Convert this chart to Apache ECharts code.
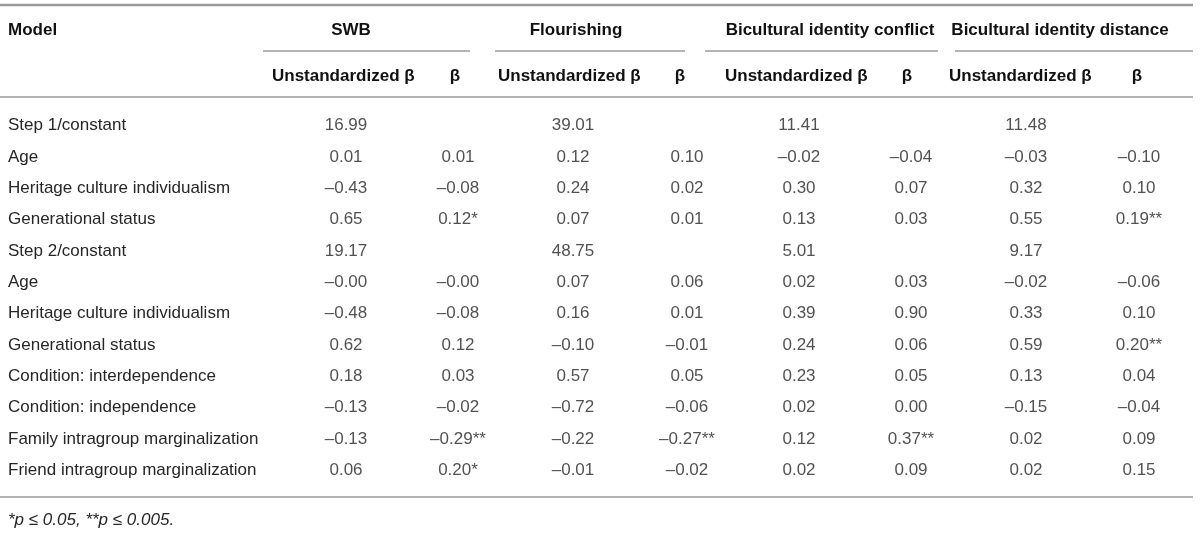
<!DOCTYPE html>
<html>
<head>
<meta charset="utf-8">
<script src="https://cdn.jsdelivr.net/npm/echarts@6/dist/echarts.min.js"></script>
<style>
  html, body { margin: 0; padding: 0; background: #fff; }
  #main { width: 1200px; height: 534px; }
</style>
</head>
<body>
<div id="main"></div>
<script>
// table content
const rowLabels = [
    'Step 1/constant', 'Age', 'Heritage culture individualism', 'Generational status',
    'Step 2/constant', 'Age', 'Heritage culture individualism', 'Generational status',
    'Condition: interdependence', 'Condition: independence',
    'Family intragroup marginalization', 'Friend intragroup marginalization'
];
const groupTitles = ['SWB', 'Flourishing', 'Bicultural identity conflict', 'Bicultural identity distance'];
const subTitles = ['Unstandardized β', 'β'];
const modelTitle = 'Model';
const footnote = '*p ≤ 0.05, **p ≤ 0.005.';

const swbU = ['16.99', '0.01', '–0.43', '0.65', '19.17', '–0.00', '–0.48', '0.62', '0.18', '–0.13', '–0.13', '0.06'];
const swbB = ['', '0.01', '–0.08', '0.12*', '', '–0.00', '–0.08', '0.12', '0.03', '–0.02', '–0.29**', '0.20*'];
const flU = ['39.01', '0.12', '0.24', '0.07', '48.75', '0.07', '0.16', '–0.10', '0.57', '–0.72', '–0.22', '–0.01'];
const flB = ['', '0.10', '0.02', '0.01', '', '0.06', '0.01', '–0.01', '0.05', '–0.06', '–0.27**', '–0.02'];
const cfU = ['11.41', '–0.02', '0.30', '0.13', '5.01', '0.02', '0.39', '0.24', '0.23', '0.02', '0.12', '0.02'];
const cfB = ['', '–0.04', '0.07', '0.03', '', '0.03', '0.90', '0.06', '0.05', '0.00', '0.37**', '0.09'];
const dsU = ['11.48', '–0.03', '0.32', '0.55', '9.17', '–0.02', '0.33', '0.59', '0.13', '–0.15', '0.02', '0.02'];
const dsB = ['', '–0.10', '0.10', '0.19**', '', '–0.06', '0.10', '0.20**', '0.04', '–0.04', '0.09', '0.15'];

// layout (pixel columns, the x axis runs 0..1200)
const columns = [swbU, swbB, flU, flB, cfU, cfB, dsU, dsB];
const colX = [346, 458, 573, 687, 799, 911, 1026, 1139];
const groupX = [351, 576, 830, 1060];
const groupLine = [[263, 470], [495, 685], [705, 938], [955, 1193]];
const subLeftX = [272, 498, 725, 949];
const subBetaX = [455, 680, 907, 1137];

const FONT = '"Liberation Sans", Arial, Helvetica, sans-serif';
const TEXT = '#262626';
const RULE = '#6b6b6b';

const chart = echarts.init(document.getElementById('main'), null, { renderer: 'canvas' });

const series = columns.map((col, c) => ({
    type: 'scatter',
    symbolSize: 0,
    silent: true,
    data: col.map((v, i) => [colX[c], i, v]),
    label: {
        show: true,
        position: 'inside',
        formatter: p => p.value[2],
        color: TEXT,
        fontFamily: FONT,
        fontSize: 17
    }
}));

const hline = (x1, x2, y, w, c) => ({
    type: 'line',
    silent: true,
    shape: { x1, y1: y, x2, y2: y },
    style: { stroke: c, lineWidth: w }
});
const text = (x, y, t, align, bold, italic) => ({
    type: 'text',
    silent: true,
    x, y,
    style: {
        text: t,
        align,
        verticalAlign: 'middle',
        fill: bold ? '#111' : TEXT,
        font: (italic ? 'italic ' : '') + (bold ? 'bold ' : '') + '17px ' + FONT
    }
});

const graphics = [
    hline(0, 1193, 5, 2.5, '#9a9a9a'),
    hline(0, 1193, 97, 1.2, RULE),
    hline(0, 1193, 497, 1.2, RULE),
    text(8, 30, modelTitle, 'left', true),
    text(8, 520, footnote, 'left', false, true)
];
groupTitles.forEach((g, i) => {
    graphics.push(text(groupX[i], 30, g, 'center', true));
    graphics.push(hline(groupLine[i][0], groupLine[i][1], 51, 1.2, RULE));
    graphics.push(text(subLeftX[i], 76, subTitles[0], 'left', true));
    graphics.push(text(subBetaX[i], 76, subTitles[1], 'center', true));
});

chart.setOption({
    animation: false,
    backgroundColor: '#fff',
    grid: { left: 0, right: 0, top: 110, height: 376 },
    xAxis: {
        type: 'value', min: 0, max: 1200,
        show: false
    },
    yAxis: {
        type: 'category',
        inverse: true,
        data: rowLabels,
        axisLine: { show: false },
        axisTick: { show: false },
        splitLine: { show: false },
        axisLabel: {
            inside: true,
            margin: 8,
            color: TEXT,
            fontFamily: FONT,
            fontSize: 17
        }
    },
    series,
    graphic: graphics
});

window.addEventListener('resize', () => chart.resize());
</script>
</body>
</html>
